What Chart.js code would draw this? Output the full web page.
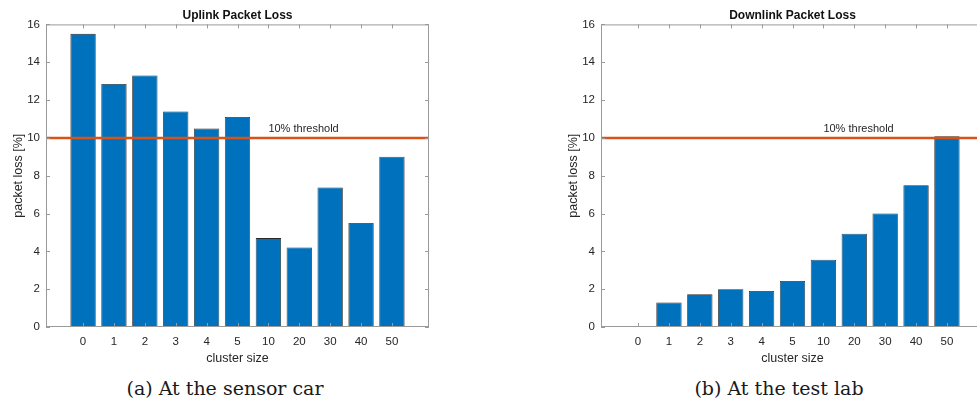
<!DOCTYPE html>
<html>
<head>
<meta charset="utf-8">
<script src="https://cdn.jsdelivr.net/npm/chart.js@4"></script>
<style>
  html, body { margin: 0; padding: 0; background: #fff; width: 977px; height: 405px; overflow: hidden; }
  .wrap { position: absolute; top: 0; width: 440px; height: 370px; }
  .cap { position: absolute; top: 377px; font-family: "DejaVu Serif", serif; font-size: 19px; color: #1a1a1a; white-space: nowrap; transform: translateX(-50%); }
</style>
</head>
<body>
<div class="wrap" style="left:0"><canvas id="up" width="440" height="370"></canvas></div>
<div class="wrap" style="left:555px"><canvas id="down" width="440" height="370"></canvas></div>
<div class="cap" style="left:225px">(a) At the sensor car</div>
<div class="cap" style="left:779px">(b) At the test lab</div>
<script>
const clusterSizes = ["0", "1", "2", "3", "4", "5", "10", "20", "30", "40", "50"];
const uplinkLoss = [15.5, 12.85, 13.3, 11.4, 10.5, 11.1, 4.7, 4.2, 7.38, 5.5, 9.0];
const downlinkLoss = [0, 1.3, 1.73, 2.0, 1.9, 2.43, 3.56, 4.93, 6.0, 7.5, 10.08];
const yTicks = [0, 2, 4, 6, 8, 10, 12, 14, 16];
const threshold = 10;
const thresholdText = "10% threshold";

const sans = '"Liberation Sans", Arial, sans-serif';

// box, inward tick marks and the threshold line
const matlabAxes = {
  id: "matlabAxes",
  afterDatasetsDraw(chart) {
    const { ctx, chartArea: a, scales: { x, y } } = chart;
    ctx.save();
    const ty = y.getPixelForValue(threshold);
    ctx.strokeStyle = "#D95319";
    ctx.lineWidth = 2.5;
    ctx.beginPath();
    ctx.moveTo(a.left, ty);
    ctx.lineTo(a.right, ty);
    ctx.stroke();

    ctx.fillStyle = "#262626";
    ctx.font = "11px " + sans;
    ctx.textBaseline = "middle";
    ctx.fillText(thresholdText, x.getPixelForValue(6), y.getPixelForValue(10.47));

    ctx.strokeStyle = "#9a9a9a";
    ctx.lineWidth = 1;
    ctx.strokeRect(a.left + 0.5, a.top + 0.5, a.right - a.left - 1, a.bottom - a.top - 1);
    ctx.beginPath();
    yTicks.forEach(v => {
      const p = Math.round(y.getPixelForValue(v)) + 0.5;
      ctx.moveTo(a.left, p); ctx.lineTo(a.left + 4, p);
      ctx.moveTo(a.right, p); ctx.lineTo(a.right - 4, p);
    });
    clusterSizes.forEach((_, i) => {
      const p = Math.round(x.getPixelForValue(i)) + 0.5;
      ctx.moveTo(p, a.bottom); ctx.lineTo(p, a.bottom - 4);
      ctx.moveTo(p, a.top); ctx.lineTo(p, a.top + 4);
    });
    ctx.stroke();
    ctx.restore();
  }
};

function makeChart(id, title, values) {
  return new Chart(document.getElementById(id), {
    type: "bar",
    data: {
      datasets: [{
        data: values.map((v, i) => ({ x: i, y: v })),
        backgroundColor: "#0072BD",
        borderColor: "#2a2a2a",
        borderWidth: 0.8,
        barPercentage: 0.82,
        categoryPercentage: 1
      }]
    },
    options: {
      responsive: false,
      animation: false,
      devicePixelRatio: 1,
      layout: { padding: { right: 11, left: 0, top: 0, bottom: 0 } },
      plugins: {
        legend: { display: false },
        tooltip: { enabled: false },
        title: {
          display: true, text: title, fullSize: false, color: "#111",
          font: { family: sans, size: 12, weight: "bold" },
          padding: { top: 8, bottom: 2 }
        }
      },
      scales: {
        x: {
          type: "linear", min: -1.2, max: 11.2, offset: false,
          grid: { display: false, drawTicks: false },
          border: { display: false },
          afterBuildTicks: s => { s.ticks = clusterSizes.map((_, i) => ({ value: i })); },
          afterFit: s => { s.height = 43; },
          ticks: {
            callback: v => clusterSizes[v],
            autoSkip: false, maxRotation: 0, padding: 8,
            color: "#262626", font: { family: sans, size: 11.5 }
          },
          title: {
            display: true, text: "cluster size", color: "#262626",
            font: { family: sans, size: 12.5 }, padding: { top: 0, bottom: 4 }
          }
        },
        y: {
          min: 0, max: 16,
          grid: { display: false, drawTicks: false },
          border: { display: false },
          afterBuildTicks: s => { s.ticks = yTicks.map(v => ({ value: v })); },
          afterFit: s => { s.width = 46; },
          ticks: { padding: 6, color: "#262626", font: { family: sans, size: 11.5 } },
          title: {
            display: true, text: "packet loss [%]", color: "#262626",
            font: { family: sans, size: 12.5 }, padding: { top: 11, bottom: 0 }
          }
        }
      }
    },
    plugins: [matlabAxes]
  });
}

makeChart("up", "Uplink Packet Loss", uplinkLoss);
makeChart("down", "Downlink Packet Loss", downlinkLoss);
</script>
</body>
</html>
